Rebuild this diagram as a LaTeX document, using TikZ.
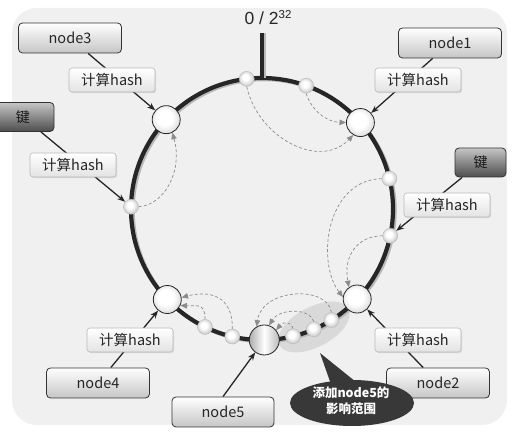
\documentclass[tikz,border=0pt]{standalone}
\usepackage{fontspec}
\setmainfont{Noto Sans CJK SC}
\newfontfamily\numfont{Liberation Sans}
\usetikzlibrary{shapes.geometric,shadows,arrows.meta,calc}
\pgfdeclarelayer{back}
\pgfdeclarelayer{bg}
\pgfsetlayers{back,bg,main}
\pgfdeclareradialshading{myball}{\pgfpoint{-5bp}{6bp}}{color(0bp)=(white); color(10bp)=(white); color(20bp)=(gray!25); color(27bp)=(gray!45); color(50bp)=(gray!45)}
\pgfdeclareradialshading{mynode}{\pgfpoint{-4bp}{5bp}}{color(0bp)=(white); color(14bp)=(white); color(25bp)=(gray!22); color(50bp)=(gray!22)}
\begin{document}
\begin{tikzpicture}[x=1pt,y=-1pt,
  lbl/.style={draw=black!80, line width=0.8pt, rounded corners=4pt, top color=white, bottom color=gray!45,
    minimum width=103pt, minimum height=30pt, inner sep=0pt, font=\fontsize{14.5}{16}\selectfont, text=black!85},
  keybox/.style={draw=black!80, line width=0.8pt, rounded corners=4pt, minimum height=29pt, inner sep=0pt,
    top color=gray!45, middle color=gray!22, bottom color=black!70,
    font=\fontsize{14}{16}\selectfont, text=black!90},
  hashbox/.style={draw=gray!55, line width=0.6pt, rounded corners=3pt, top color=white, bottom color=gray!22,
    minimum width=86pt, minimum height=24pt, inner sep=0pt, font=\fontsize{14.5}{16}\selectfont, text=black!85,
    drop shadow={opacity=0.2, shadow xshift=1.2pt, shadow yshift=-1.2pt}},
  bignode/.style={circle, draw=black!85, line width=0.8pt, shading=mynode,
    minimum size=28pt, inner sep=0pt},
  ball/.style={circle, shading=myball, draw=gray!55, line width=0.4pt,
    minimum size=15pt, inner sep=0pt},
  conn/.style={-{Stealth[length=8pt,width=6pt]}, line width=1.3pt, black!85},
  dasharr/.style={black!45, line width=0.7pt, dash pattern=on 3pt off 2.2pt,
    -{Triangle[length=6.5pt,width=5.5pt]}}
]
\useasboundingbox (0,0) rectangle (517,435);
\begin{pgfonlayer}{back}
\fill[white] (0,0) rectangle (517,435);
\fill[gray!12, rounded corners=25pt] (12,8) rectangle (507,425);
\end{pgfonlayer}

\coordinate (c) at (262,209);

% highlight region
\node[ellipse, fill=gray!30, minimum width=78pt, minimum height=40pt, rotate=28] (hl) at (314,327) {};

% ring
\draw[line width=3.5pt, gray!55] ($(c)+(2,1.5)$) circle[radius=131pt];
\draw[line width=4.2pt, black!85] (c) circle[radius=131pt];

% top marker
\coordinate (vt) at (262,33);
\coordinate (vb) at ($(c)+(-90:131)$);
\draw[line width=3pt, gray!55] ($(vt)+(2,0)$) -- ($(vb)+(2,0)$);
\draw[line width=4pt, black!85] (vt) -- (vb);
\node[font=\numfont\fontsize{17.5}{18}\selectfont, text=black!85, inner sep=0pt] (zero) at (268,18) {0 / 2\raisebox{6pt}{\fontsize{11.5}{11}\selectfont 32}};

% ring nodes
\node[bignode] (n3) at ($(c)+(-137:131)$) {};
\node[bignode] (n1) at ($(c)+(-41.3:131)$) {};
\node[bignode] (n2) at ($(c)+(43.4:131)$) {};
\node[bignode] (n4) at ($(c)+(136.3:131)$) {};
\node[bignode, minimum size=30pt, shading=axis, left color=gray!65, right color=gray!55, middle color=white] (n5) at ($(c)+(89:131)$) {};

% balls (keys on ring)
\node[ball] (tb) at ($(c)+(-96.7:131)$) {};
\node[ball] (tr) at ($(c)+(-70.3:131)$) {};
\node[ball] (rb) at ($(c)+(-13.4:131)$) {};
\node[ball] (rb2) at ($(c)+(11.8:131)$) {};
\node[ball] (lb) at ($(c)+(-179:131)$) {};
\node[ball] (bl1) at ($(c)+(115.8:131)$) {};
\node[ball] (bl2) at ($(c)+(103.1:131)$) {};
\node[ball] (br1) at ($(c)+(76.3:131)$) {};
\node[ball] (br2) at ($(c)+(66.7:131)$) {};
\node[ball] (br3) at ($(c)+(58:131)$) {};

% dashed mapping arrows
\draw[dasharr] (tb.south) .. controls (258,138) and (320,170) .. (n1.240);
\draw[dasharr] (tr.south) .. controls (312,112) and (328,122) .. (n1.180);
\draw[dasharr] (lb.east) .. controls (165,205) and (183,170) .. (n3.295);
\draw[dasharr] (rb.west) .. controls (326,180) and (316,262) .. (n2.172);
\draw[dasharr] (rb2.west) .. controls (358,236) and (343,255) .. (n2.125);
\draw[dasharr] (bl1.north) .. controls (205,303) and (198,306) .. (n4.-25);
\draw[dasharr] (bl2.north) .. controls (233,296) and (210,290) .. (n4.8);
\draw[dasharr] (br3.north) .. controls (328,285) and (262,288) .. (n5.120);
\draw[dasharr] (br2.north) .. controls (310,308) and (280,308) .. (n5.72);
\draw[dasharr] (br1.north) .. controls (292,322) and (284,321) .. (n5.40);

% label boxes
\node[lbl] (l3) at (70,38) {node3};
\node[lbl] (l1) at (450,43) {node1};
\node[lbl] (l4) at (98,383) {node4};
\node[lbl] (l2) at (438,383) {node2};
\node[lbl, minimum width=102pt] (l5) at (223,412) {node5};
\node[keybox, minimum width=62pt] (lk) at (23,117) {键};
\node[keybox, minimum width=51pt] (rk) at (480.5,162.5) {键};

% hash boxes
\node[hashbox] (h3) at (112,80) {计算hash};
\node[hashbox] (hk) at (73,165) {计算hash};
\node[hashbox] (h1) at (418,80) {计算hash};
\node[hashbox] (hk2) at (447,205) {计算hash};
\node[hashbox] (h4) at (130,340) {计算hash};
\node[hashbox] (h2) at (418,340) {计算hash};

% solid connectors (behind boxes)
\begin{pgfonlayer}{bg}
\draw[conn] (l3) -- (n3);
\draw[conn] (l1) -- (n1);
\draw[conn] (lk) -- (lb);
\draw[conn] (rk) -- (rb2);
\draw[conn] (l4) -- (n4);
\draw[conn] (l2) -- (n2);
\draw[conn] (l5.north) -- (n5);
\end{pgfonlayer}

% callout
\coordinate (tip) at (320,353);
\node[ellipse, fill=black!78, minimum width=124pt, minimum height=46pt, inner sep=0pt] (co) at (352,403) {};
\fill[black!78] (tip) -- (333,390) -- (366,390) -- cycle;
\node[align=center, text=white, font=\bfseries\fontsize{12.5}{16}\selectfont] (cot) at (351,401) {添加node5的\\影响范围};
\end{tikzpicture}
\end{document}
